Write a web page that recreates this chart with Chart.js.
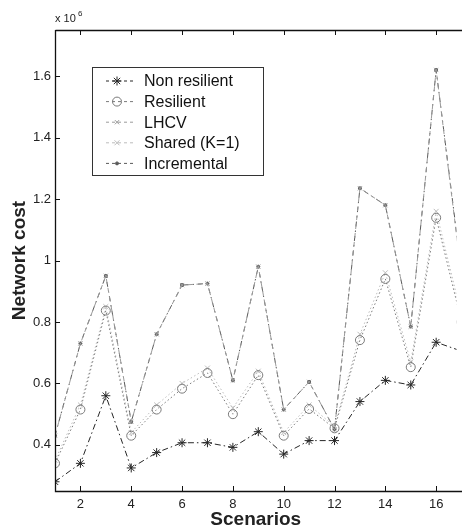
<!DOCTYPE html>
<html>
<head>
<meta charset="utf-8">
<script src="https://cdn.jsdelivr.net/npm/chart.js@4.4.0/dist/chart.umd.min.js"></script>
<style>
  html, body { margin: 0; padding: 0; background: #fff; }
  #wrap { width: 462px; height: 531px; }
</style>
</head>
<body>
<div id="wrap"><canvas id="costChart"></canvas></div>
<script>
// scenarios 1..17, network cost in units of 10^6
const scenarios = [1, 2, 3, 4, 5, 6, 7, 8, 9, 10, 11, 12, 13, 14, 15, 16, 17];
const nonResilient = [0.28, 0.34, 0.56, 0.325, 0.375, 0.407, 0.407, 0.392, 0.443, 0.37, 0.414, 0.414, 0.541, 0.61, 0.595, 0.734, 0.705];
const resilient = [0.34, 0.515, 0.837, 0.43, 0.515, 0.583, 0.634, 0.50, 0.627, 0.43, 0.517, 0.454, 0.741, 0.94, 0.653, 1.139, 0.80];
const lhcv = [0.43, 0.73, 0.95, 0.475, 0.76, 0.92, 0.925, 0.61, 0.98, 0.515, 0.605, 0.45, 1.235, 1.18, 0.785, 1.62, 0.95];
const shared = [0.35, 0.53, 0.85, 0.44, 0.53, 0.60, 0.65, 0.52, 0.64, 0.44, 0.53, 0.46, 0.76, 0.96, 0.67, 1.16, 0.82];
const incremental = [0.43, 0.73, 0.95, 0.475, 0.76, 0.92, 0.925, 0.61, 0.98, 0.515, 0.605, 0.45, 1.235, 1.18, 0.785, 1.62, 0.96];

const xTicks = [2, 4, 6, 8, 10, 12, 14, 16];
const yTicks = [0.4, 0.6, 0.8, 1.0, 1.2, 1.4, 1.6];

const toPoints = arr => arr.map((v, i) => ({ x: scenarios[i], y: v }));

const series = [
    { label: 'Non resilient', data: nonResilient, color: '#262626', dash: [6, 3, 1.5, 3], style: 'star', radius: 4.5, fill: false },
    { label: 'Resilient', data: resilient, color: '#7a7a7a', dash: [1.5, 2.5], style: 'circle', radius: 4.5, fill: false },
    { label: 'LHCV', data: lhcv, color: '#9a9a9a', dash: [5, 4], style: 'crossRot', radius: 3, fill: false },
    { label: 'Shared (K=1)', data: shared, color: '#bdbdbd', dash: [1.5, 2.5], style: 'crossRot', radius: 3.5, fill: false },
    { label: 'Incremental', data: incremental, color: '#5a5a5a', dash: [5, 4, 1.5, 4], style: 'circle', radius: 1.5, fill: true }
];

const datasets = series.map(s => ({
    label: s.label,
    data: toPoints(s.data),
    borderColor: s.color,
    backgroundColor: s.fill ? s.color : 'rgba(0,0,0,0)',
    borderWidth: 1,
    borderDash: s.dash,
    pointStyle: s.style,
    pointRadius: s.radius,
    pointBorderColor: s.color,
    pointBackgroundColor: s.fill ? s.color : 'rgba(0,0,0,0)',
    pointBorderWidth: 1,
    tension: 0
}));

// MATLAB-ish frame: box, inward ticks, exponent label and the inset legend
const matlabFrame = {
    id: 'matlabFrame',
    afterDraw(chart) {
        const ctx = chart.ctx;
        const a = chart.chartArea;
        const sx = chart.scales.x, sy = chart.scales.y;
        ctx.save();
        ctx.setLineDash([]);
        ctx.strokeStyle = '#111';
        ctx.lineWidth = 1.3;
        ctx.beginPath();
        ctx.moveTo(a.left + 0.5, a.top + 0.5);
        ctx.lineTo(462, a.top + 0.5);
        ctx.moveTo(a.left + 0.5, a.top);
        ctx.lineTo(a.left + 0.5, a.bottom + 0.5);
        ctx.lineTo(462, a.bottom + 0.5);
        ctx.stroke();

        ctx.lineWidth = 1;
        ctx.beginPath();
        xTicks.forEach(v => {
            const px = Math.round(sx.getPixelForValue(v)) + 0.5;
            ctx.moveTo(px, a.bottom);
            ctx.lineTo(px, a.bottom - 5);
            ctx.moveTo(px, a.top);
            ctx.lineTo(px, a.top + 5);
        });
        yTicks.forEach(v => {
            const py = Math.round(sy.getPixelForValue(v)) + 0.5;
            ctx.moveTo(a.left, py);
            ctx.lineTo(a.left + 5, py);
        });
        ctx.stroke();

        // exponent
        ctx.fillStyle = '#222';
        ctx.font = '11px "Liberation Sans", Arial, sans-serif';
        ctx.textBaseline = 'alphabetic';
        ctx.textAlign = 'left';
        ctx.fillText('x 10', 55, 22);
        ctx.font = '8px "Liberation Sans", Arial, sans-serif';
        ctx.fillText('6', 78, 16);

        // legend box
        const bx = 92, by = 67, bw = 171, bh = 108;
        ctx.fillStyle = '#fff';
        ctx.fillRect(bx, by, bw, bh);
        ctx.strokeStyle = '#333';
        ctx.lineWidth = 1;
        ctx.strokeRect(bx + 0.5, by + 0.5, bw, bh);
        ctx.font = '16px "Liberation Sans", Arial, sans-serif';
        ctx.textBaseline = 'middle';
        chart.data.datasets.forEach((ds, i) => {
            const y = 81 + i * 20.6;
            ctx.strokeStyle = ds.borderColor;
            ctx.setLineDash([3, 3]);
            ctx.beginPath();
            ctx.moveTo(106, y);
            ctx.lineTo(133, y);
            ctx.stroke();
            ctx.setLineDash([]);
            ctx.fillStyle = ds.pointBackgroundColor;
            Chart.helpers.drawPoint(ctx, {
                pointStyle: ds.pointStyle,
                radius: ds.pointRadius,
                borderWidth: 1
            }, 117, y);
            ctx.fillStyle = '#111';
            ctx.fillText(ds.label, 144, y + 1);
        });
        ctx.restore();
    }
};

const costChart = new Chart(document.getElementById('costChart').getContext('2d'), {
    type: 'line',
    data: { datasets: datasets },
    plugins: [matlabFrame],
    options: {
        responsive: true,
        maintainAspectRatio: false,
        animation: false,
        layout: { padding: { top: 30, right: 0, left: 0, bottom: 0 } },
        plugins: {
            legend: { display: false },
            tooltip: { enabled: false }
        },
        scales: {
            x: {
                type: 'linear',
                min: 1,
                max: 16.8,
                afterBuildTicks: s => { s.ticks = xTicks.map(v => ({ value: v })); },
                afterFit: s => { s.height = 40; },
                grid: { display: false, drawTicks: false },
                border: { display: false },
                ticks: {
                    color: '#222',
                    padding: 6,
                    maxRotation: 0,
                    font: { family: '"Liberation Sans", Arial, sans-serif', size: 13 },
                    callback: v => String(v)
                },
                title: {
                    display: true,
                    text: 'Scenarios',
                    color: '#222',
                    padding: { top: 0, bottom: 0 },
                    font: { family: '"Liberation Sans", Arial, sans-serif', size: 19, weight: 'bold' }
                }
            },
            y: {
                min: 0.25,
                max: 1.75,
                afterBuildTicks: s => { s.ticks = yTicks.map(v => ({ value: v })); },
                afterFit: s => { s.width = 55; },
                grid: { display: false, drawTicks: false },
                border: { display: false },
                ticks: {
                    color: '#222',
                    padding: 4,
                    font: { family: '"Liberation Sans", Arial, sans-serif', size: 13 },
                    callback: v => String(Math.round(v * 10) / 10)
                },
                title: {
                    display: true,
                    text: 'Network cost',
                    color: '#222',
                    padding: { top: 8, bottom: 0 },
                    font: { family: '"Liberation Sans", Arial, sans-serif', size: 19, weight: 'bold' }
                }
            }
        }
    }
});
</script>
</body>
</html>
